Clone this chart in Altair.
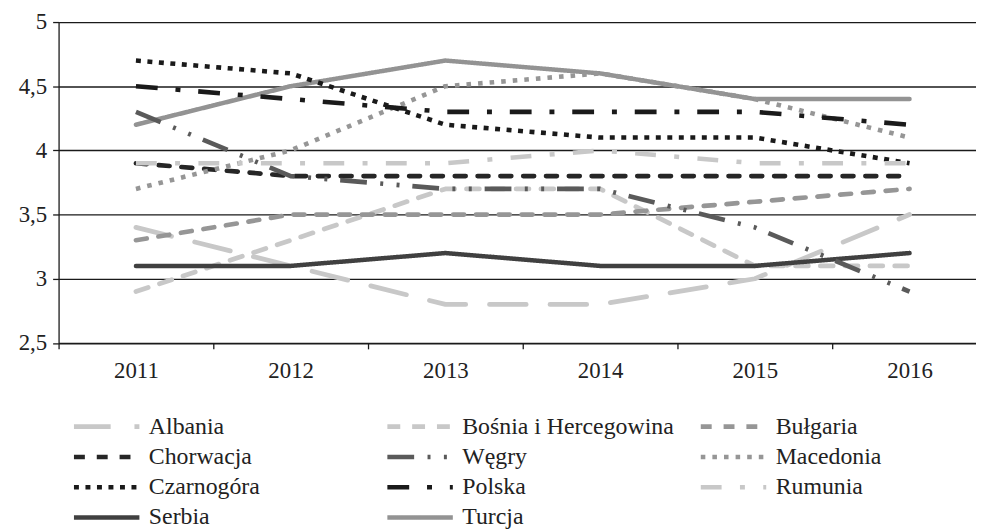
import altair as alt
import pandas as pd

years = [2011, 2012, 2013, 2014, 2015, 2016]
countries = ["Albania", "Bośnia i Hercegowina", "Bułgaria", "Chorwacja", "Węgry",
             "Macedonia", "Czarnogóra", "Polska", "Rumunia", "Serbia", "Turcja"]

albania = [3.4, 3.1, 2.8, 2.8, 3.0, 3.5]
bosnia = [2.9, 3.3, 3.7, 3.7, 3.1, 3.1]
bulgaria = [3.3, 3.5, 3.5, 3.5, 3.6, 3.7]
chorwacja = [3.9, 3.8, 3.8, 3.8, 3.8, 3.8]
wegry = [4.3, 3.8, 3.7, 3.7, 3.4, 2.9]
macedonia = [3.7, 4.0, 4.5, 4.6, 4.4, 4.1]
czarnogora = [4.7, 4.6, 4.2, 4.1, 4.1, 3.9]
polska = [4.5, 4.4, 4.3, 4.3, 4.3, 4.2]
rumunia = [3.9, 3.9, 3.9, 4.0, 3.9, 3.9]
serbia = [3.1, 3.1, 3.2, 3.1, 3.1, 3.2]
turcja = [4.2, 4.5, 4.7, 4.6, 4.4, 4.4]

series = [albania, bosnia, bulgaria, chorwacja, wegry, macedonia,
          czarnogora, polska, rumunia, serbia, turcja]

y_ticks = [2.5, 3, 3.5, 4, 4.5, 5]

# styles
colors = ["#c8c8c8", "#c8c8c8", "#969696", "#262626", "#5a5a5a",
          "#969696", "#1a1a1a", "#1a1a1a", "#c8c8c8", "#404040", "#939393"]
dashes = [[37, 24], [13, 12], [11, 12], [11, 12], [27, 13.5, 3, 13.5, 3, 13],
          [4.6, 7.1], [5, 6.6], [22, 18, 5, 18], [21, 18.5, 5, 18.5],
          [1, 0], [1, 0]]
widths = [4.8, 4.5, 5, 5, 3, 4.7, 5, 5.5, 5, 3, 5.5]
# series drawn with square ends (patterns containing dots)
dotted = ["Węgry", "Macedonia", "Czarnogóra", "Polska", "Rumunia"]
rounded = [c for c in countries if c not in dotted]

rows = []
for c, vals in zip(countries, series):
    for yr, v in zip(years, vals):
        rows.append({"country": c, "year": yr, "value": v})
df = pd.DataFrame(rows)

x_axis_vals = []
for yr in years:
    x_axis_vals += [yr - 0.5, yr]

band = 156.0
plot_w = 925
x_end = years[0] - 0.5 + plot_w / band

FONT = "Liberation Serif"
LINE = "#1a1a1a"
TXT = "#222222"

base = alt.Chart(df).encode(
    x=alt.X("year:Q",
            scale=alt.Scale(domain=[years[0] - 0.5, x_end], nice=False, zero=False),
            axis=alt.Axis(values=x_axis_vals, title=None, grid=False,
                          domainColor=LINE, domainWidth=1.3,
                          tickColor=LINE, tickWidth=1.3, tickSize=6,
                          tickOpacity={"condition": {"test": "datum.value % 1 == 0", "value": 0}, "value": 1},
                          labelExpr="datum.value % 1 == 0 ? format(datum.value, 'd') : ''",
                          labelFont=FONT, labelFontSize=23, labelColor=TXT,
                          labelPadding=11, labelFlush=False, labelOverlap=False)),
    y=alt.Y("value:Q",
            scale=alt.Scale(domain=[2.5, 5], nice=False, zero=False),
            axis=alt.Axis(values=y_ticks, title=None, grid=True,
                          gridColor=LINE, gridWidth=1.3,
                          domainColor=LINE, domainWidth=1.3,
                          tickColor=LINE, tickWidth=1.3, tickSize=6,
                          labelExpr="replace(format(datum.value, '~g'), '.', ',')",
                          labelFont=FONT, labelFontSize=23, labelColor=TXT,
                          labelPadding=6, labelFlush=False, labelOverlap=False)),
    color=alt.Color("country:N", scale=alt.Scale(domain=countries, range=colors),
                    legend=alt.Legend(title=None, orient="none", legendX=13, legendY=393,
                                      direction="horizontal",
                                      columns=3, gridAlign="all", columnPadding=24,
                                      rowPadding=0.5, clipHeight=30, symbolType="stroke",
                                      symbolSize=4356, labelFont=FONT, labelFontSize=24,
                                      labelColor=TXT, labelOffset=7, padding=0, labelLimit=400)),
    strokeDash=alt.StrokeDash("country:N", scale=alt.Scale(domain=countries, range=dashes)),
    strokeWidth=alt.StrokeWidth("country:N", scale=alt.Scale(domain=countries, range=widths)),
)

round_lines = base.mark_line(strokeCap="round", strokeJoin="round").transform_filter(
    alt.FieldOneOfPredicate(field="country", oneOf=rounded))
square_lines = base.mark_line(strokeCap="butt", strokeJoin="round").transform_filter(
    alt.FieldOneOfPredicate(field="country", oneOf=dotted))

chart = alt.layer(round_lines, square_lines).properties(
    width=plot_w, height=323.5,
    autosize=alt.AutoSizeParams(type="none"),
    padding={"left": 51, "top": 12, "right": 0, "bottom": 190},
).configure_view(stroke=None)

chart.save("out.html", embed_options={"renderer": "svg", "actions": False})
